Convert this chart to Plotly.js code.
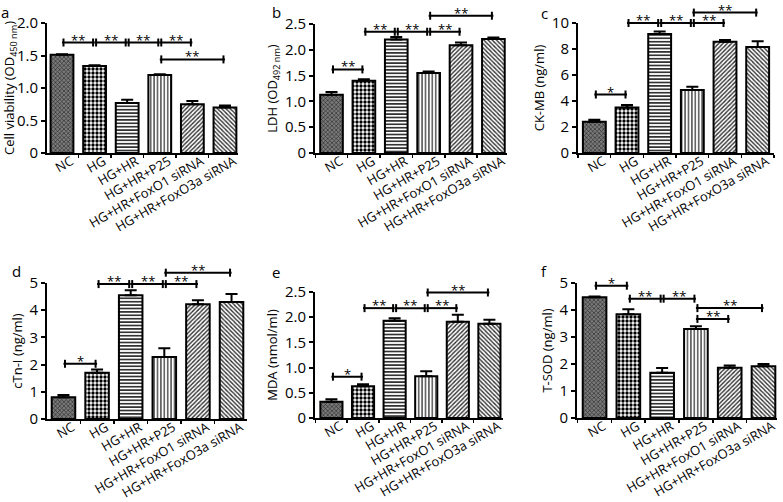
<!DOCTYPE html>
<html><head><meta charset="utf-8">
<script src="https://cdn.plot.ly/plotly-3.0.1.min.js"></script>
<style>html,body{margin:0;padding:0;background:#fff}#chart{width:783px;height:502px}</style>
</head><body><div id="chart"></div>
<script>
// ---------- data ----------
const categories = ['NC', 'HG', 'HG+HR', 'HG+HR+P25', 'HG+HR+FoxO1 siRNA', 'HG+HR+FoxO3a siRNA'];

const viabilityValues = [1.51, 1.34, 0.77, 1.20, 0.75, 0.70];
const viabilityErrors = [0.01, 0.01, 0.05, 0.01, 0.05, 0.03];
const ldhValues = [1.13, 1.40, 2.20, 1.55, 2.09, 2.21];
const ldhErrors = [0.05, 0.03, 0.05, 0.03, 0.05, 0.03];
const ckmbValues = [2.40, 3.50, 9.15, 4.85, 8.55, 8.15];
const ckmbErrors = [0.15, 0.20, 0.20, 0.25, 0.15, 0.45];
const ctniValues = [0.80, 1.70, 4.55, 2.28, 4.22, 4.30];
const ctniErrors = [0.08, 0.12, 0.18, 0.32, 0.15, 0.30];
const mdaValues = [0.32, 0.63, 1.93, 0.83, 1.91, 1.87];
const mdaErrors = [0.05, 0.04, 0.05, 0.10, 0.14, 0.08];
const tsodValues = [4.47, 3.84, 1.68, 3.30, 1.86, 1.92];
const tsodErrors = [0.03, 0.19, 0.17, 0.10, 0.08, 0.08];

const yTitles = ['Cell viability (OD<sub>450 nm</sub>)', 'LDH (OD<sub>492 nm</sub>)', 'CK-MB (ng/ml)',
                 'cTn-I (ng/ml)', 'MDA (nmol/ml)', 'T-SOD (ng/ml)'];
const tickValsHalf = [0, 0.5, 1, 1.5, 2, 2.5];
const tickTextHalf = ['0', '0.5', '1.0', '1.5', '2.0', '2.5'];
const tickValsCk = [0, 2, 4, 6, 8, 10];
const tickTextCk = ['0', '2', '4', '6', '8', '10'];
const tickValsInt = [0, 1, 2, 3, 4, 5];
const tickTextInt = ['0', '1', '2', '3', '4', '5'];
const panelLetters = ['a', 'b', 'c', 'd', 'e', 'f'];

// significance brackets: [from index, to index, level, label]
const bracketsA = [[0, 1, 1.70, '**'], [1, 2, 1.70, '**'], [2, 3, 1.70, '**'], [3, 4, 1.70, '**'], [3, 5, 1.44, '**']];
const bracketsB = [[0, 1, 1.62, '**'], [1, 2, 2.35, '**'], [2, 3, 2.35, '**'], [3, 4, 2.35, '**'], [3, 5, 2.66, '**']];
const bracketsC = [[0, 1, 4.5, '*'], [1, 2, 10.0, '**'], [2, 3, 10.0, '**'], [3, 4, 10.0, '**'], [3, 5, 10.8, '**']];
const bracketsD = [[0, 1, 2.03, '*'], [1, 2, 4.96, '**'], [2, 3, 4.96, '**'], [3, 4, 4.96, '**'], [3, 5, 5.38, '**']];
const bracketsE = [[0, 1, 0.82, '*'], [1, 2, 2.18, '**'], [2, 3, 2.18, '**'], [3, 4, 2.18, '**'], [3, 5, 2.49, '**']];
const bracketsF = [[0, 1, 4.90, '*'], [1, 2, 4.42, '**'], [2, 3, 4.42, '**'], [3, 5, 4.07, '**'], [3, 4, 3.67, '**']];

// ---------- styling / layout ----------
const W = 783, H = 502;
const FONT = 'Open Sans, Noto Sans, sans-serif';
const panels = [
  {vals: viabilityValues, errs: viabilityErrors, tv: tickValsHalf.slice(0, 5), tt: tickTextHalf.slice(0, 5), ymax: 2.0, br: bracketsA,
   l: 47, r: 238, t: 23, b: 153, xr: [-0.46, 5.4], lx: 5, ly: 0, bt: 0},
  {vals: ldhValues, errs: ldhErrors, tv: tickValsHalf, tt: tickTextHalf, ymax: 2.5, br: bracketsB,
   l: 315, r: 507, t: 24, b: 153, xr: [-0.51, 5.42], lx: 276, ly: 0, bt: 0},
  {vals: ckmbValues, errs: ckmbErrors, tv: tickValsCk, tt: tickTextCk, ymax: 10, br: bracketsC,
   l: 578, r: 774, t: 23, b: 153, xr: [-0.5, 5.5], lx: 544, ly: 1, bt: 0},
  {vals: ctniValues, errs: ctniErrors, tv: tickValsInt, tt: tickTextInt, ymax: 5, br: bracketsD,
   l: 47, r: 247, t: 283, b: 419, xr: [-0.49, 5.46], lx: 16, ly: 259, bt: 258},
  {vals: mdaValues, errs: mdaErrors, tv: tickValsHalf, tt: tickTextHalf, ymax: 2.5, br: bracketsE,
   l: 315, r: 503, t: 292, b: 418, xr: [-0.52, 5.43], lx: 276, ly: 260, bt: 258},
  {vals: tsodValues, errs: tsodErrors, tv: tickValsInt, tt: tickTextInt, ymax: 5, br: bracketsF,
   l: 577, r: 777, t: 283, b: 418, xr: [-0.52, 5.4], lx: 544, ly: 259, bt: 258}
];

const barBg = ['#7a7a7a', '#ffffff', '#ffffff', '#ffffff', '#ffffff', '#ffffff'];
const barFg = ['#202020', '#000000', '#000000', '#000000', '#303030', '#303030'];
const barShape = ['x', '.', '-', '|', '/', '\\'];
const barSize = [3, 4, 3.4, 3.4, 3, 3];
const barSolid = [0.35, 0.55, 0.4, 0.3, 0.45, 0.45];

const data = [];
const layout = {
  width: W, height: H, margin: {l: 0, r: 0, t: 0, b: 0},
  paper_bgcolor: '#fff', plot_bgcolor: 'rgba(0,0,0,0)',
  showlegend: false, bargap: 0.3, barmode: 'overlay',
  font: {family: FONT, color: '#000', size: 13},
  shapes: [], annotations: []
};

panels.forEach((p, k) => {
  const n = k + 1, m = k + 7;
  const xd = [p.l / W, p.r / W];
  const yd = [1 - p.b / H, 1 - p.t / H];
  const ydBr = [yd[0], 1 - p.bt / H];
  const brMax = p.ymax * (ydBr[1] - ydBr[0]) / (yd[1] - yd[0]);

  categories.forEach((cat, c) => {
    data.push({
      type: 'bar', x: [cat], y: [p.vals[c]], xaxis: 'x' + n, yaxis: 'y' + n,
      marker: {color: barBg[c], line: {color: '#000', width: 2},
               pattern: {shape: barShape[c], fgcolor: barFg[c], bgcolor: barBg[c], size: barSize[c], solidity: barSolid[c]}},
      error_y: {type: 'data', symmetric: false, array: [p.errs[c]], arrayminus: [0],
                color: '#000', thickness: 2, width: 6},
      hoverinfo: 'skip'
    });
  });

  layout['xaxis' + n] = {
    domain: xd, anchor: 'y' + n, type: 'category', categoryorder: 'array', categoryarray: categories,
    range: p.xr, showline: true, linewidth: 2, linecolor: '#000', ticks: 'outside', tickson: 'boundaries',
    ticklen: 3, tickwidth: 1.5, tickcolor: '#000', tickangle: -30, ticklabelshift: 9, ticklabelstandoff: -6,
    showgrid: false, zeroline: false,
    tickfont: {family: FONT, size: 13, color: '#000'}, fixedrange: true
  };
  layout['yaxis' + n] = {
    domain: yd, anchor: 'x' + n, range: [0, p.ymax], showline: true, linewidth: 2, linecolor: '#000',
    ticks: 'outside', ticklen: 4, tickwidth: 2, tickcolor: '#000', showgrid: false, zeroline: false,
    tickvals: p.tv, ticktext: p.tt, tickfont: {family: FONT, size: 15, color: '#000'},
    title: {text: yTitles[k], font: {family: FONT, size: 13, color: '#000'}, standoff: 4}, fixedrange: true
  };
  layout['yaxis' + m] = {
    domain: ydBr, anchor: 'x' + n, range: [0, brMax], visible: false, showgrid: false, zeroline: false, fixedrange: true
  };

  p.br.forEach(([i, j, lv, lab]) => {
    data.push({
      type: 'scatter', mode: 'lines', x: [categories[i], categories[j]], y: [lv, lv],
      xaxis: 'x' + n, yaxis: 'y' + m, line: {color: '#000', width: 2}, hoverinfo: 'skip'
    });
    [[i, 1.5], [j, -1.5]].forEach(([c, off]) => {
      layout.shapes.push({
        type: 'line', xref: 'x' + n, yref: 'y' + m, xsizemode: 'pixel', ysizemode: 'pixel',
        xanchor: c, yanchor: lv, x0: off, x1: off, y0: -4, y1: 4, line: {color: '#000', width: 2}
      });
    });
    layout.annotations.push({
      xref: 'x' + n, yref: 'y' + m, x: (i + j) / 2, y: lv, text: lab, showarrow: false,
      yanchor: 'bottom', yshift: -8, font: {family: FONT, size: 13, color: '#000'}
    });
  });

  layout.annotations.push({
    xref: 'paper', yref: 'paper', x: p.lx / W, y: 1 - p.ly / H, text: panelLetters[k], showarrow: false,
    xanchor: 'center', yanchor: 'top', font: {family: FONT, size: 15, color: '#000'}
  });
});

Plotly.newPlot('chart', data, layout, {staticPlot: true});
</script></body></html>
